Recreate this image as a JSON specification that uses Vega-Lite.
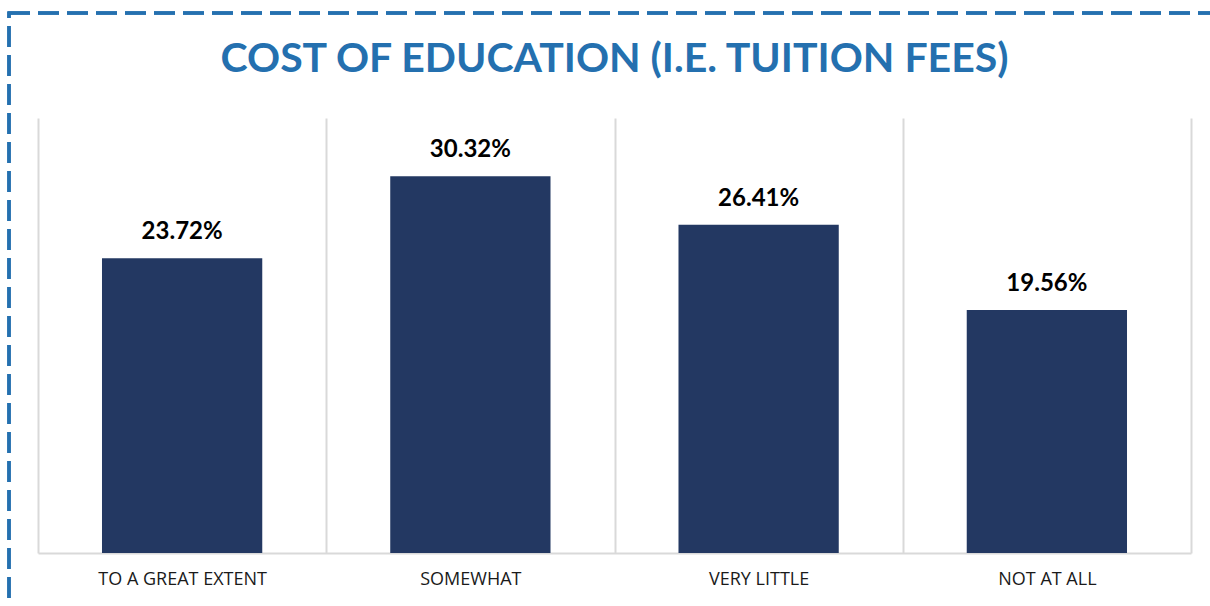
{
  "$schema": "https://vega.github.io/schema/vega-lite/v6.json",
  "width": 1153,
  "height": 435,
  "autosize": {"type": "none"},
  "padding": {"left": 38, "top": 118, "right": 19, "bottom": 53},
  "background": "white",
  "title": {
    "text": "COST OF EDUCATION (I.E. TUITION FEES)",
    "font": "Lato",
    "fontSize": 41,
    "fontWeight": "bold",
    "color": "#2470AF",
    "anchor": "middle",
    "frame": "group",
    "offset": -101,
    "baseline": "alphabetic"
  },
  "config": {"view": {"stroke": null}},
  "data": {
    "values": [
      {"category": "TO A GREAT EXTENT", "value": 0.2372},
      {"category": "SOMEWHAT", "value": 0.3032},
      {"category": "VERY LITTLE", "value": 0.2641},
      {"category": "NOT AT ALL", "value": 0.1956}
    ]
  },
  "encoding": {
    "x": {
      "field": "category",
      "type": "nominal",
      "sort": null,
      "scale": {"paddingInner": 0, "paddingOuter": 0},
      "axis": {
        "title": null,
        "labelAngle": 0,
        "labelFont": "Open Sans",
        "labelFontSize": 18,
        "labelColor": "#1a1a1a",
        "labelPadding": 17,
        "ticks": false,
        "domain": true,
        "domainColor": "#D9D9D9",
        "domainWidth": 2,
        "grid": true,
        "gridColor": "#D9D9D9",
        "gridWidth": 2,
        "tickBand": "extent"
      }
    },
    "y": {
      "field": "value",
      "type": "quantitative",
      "scale": {"domain": [0, 0.35], "nice": false},
      "axis": null
    }
  },
  "layer": [
    {
      "mark": {"type": "rect", "fillOpacity": 0, "stroke": "#2470AF", "strokeWidth": 3, "strokeDash": [21, 8]},
      "encoding": {
        "x": {"value": -29},
        "x2": {"value": 1300},
        "y": {"value": -105},
        "y2": {"value": 700}
      }
    },
    {
      "mark": {"type": "bar", "color": "#233862", "width": {"band": 0.556}}
    },
    {
      "mark": {"type": "text", "baseline": "alphabetic", "dy": -19, "font": "Lato", "fontSize": 24, "fontWeight": "bold", "color": "#000000"},
      "encoding": {
        "text": {"field": "value", "type": "quantitative", "format": ".2%"}
      }
    }
  ]
}
